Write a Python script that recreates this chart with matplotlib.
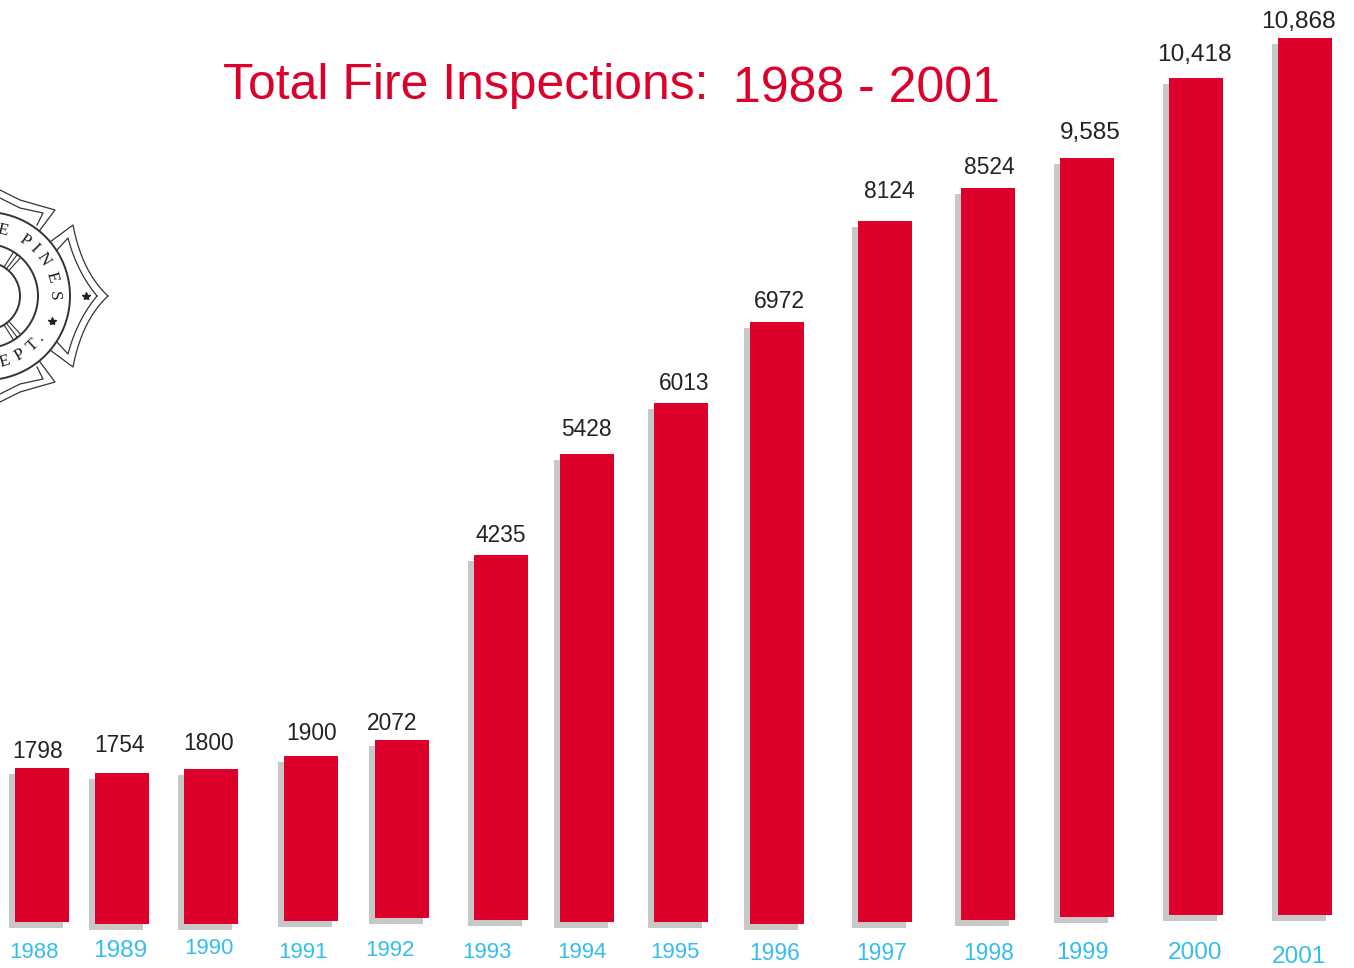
import numpy as np
import matplotlib
matplotlib.use('Agg')
import matplotlib.pyplot as plt
from matplotlib.transforms import Affine2D

years = ['1988', '1989', '1990', '1991', '1992', '1993', '1994',
         '1995', '1996', '1997', '1998', '1999', '2000', '2001']
value_labels = ['1798', '1754', '1800', '1900', '2072', '4235', '5428',
                '6013', '6972', '8124', '8524', '9,585', '10,418', '10,868']
# heights as drawn in the picture (the last bars are shorter than their labels say)
drawn_values = [1787, 1752, 1798, 1914, 2065, 4234, 5429,
                6021, 6984, 8132, 8492, 8805, 9710, 10174]

# the bars are placed by hand in the original, so layout is per bar (pixels)
bar_left = [15, 95, 184, 284, 375, 474, 560, 654, 750, 858, 961, 1060, 1169, 1278]
bar_base = [922, 924, 924, 921, 918, 920, 922, 922, 924, 922, 920, 917, 915, 915]
label_x = [38, 119, 209, 312, 392, 501, 586, 684, 779, 889, 989, 1090, 1194, 1298]
label_y = [751, 746, 743, 733, 723, 535, 429, 383, 301, 191, 167, 133, 55, 22]
label_size = [16.4, 16.4, 16.4, 16.4, 16.4, 16.4, 16.4, 16.4, 16.6, 16.4, 16.4, 17.6, 17.6, 17.6]
year_x = [34, 120, 209, 303, 390, 487, 582, 675, 775, 882, 989, 1083, 1195, 1299]
year_y = [952, 951, 949, 953, 951, 953, 953, 953, 953, 953, 953, 953, 953, 957]
year_size = [16, 17.6, 16, 16, 16, 16, 16, 16, 16.4, 16.4, 16.4, 17, 17.6, 17.6]

W, H = 1354, 968
PX_PER_UNIT = 0.0862
BAR_W = 54
RED = '#dc002b'
GREY = '#c8c8c8'
BLUE = '#35bdec'
INK = '#333333'

plt.rcParams['font.family'] = ['Liberation Sans', 'DejaVu Sans']

fig = plt.figure(figsize=(W / 100, H / 100), dpi=100)
ax = fig.add_axes([0, 0, 1, 1])
ax.set_xlim(0, W)
ax.set_ylim(-(H - 922) / PX_PER_UNIT, 922 / PX_PER_UNIT)
ax.axis('off')

# pixel coords from the top left, for text and the badge
px = Affine2D().scale(1, -1).translate(0, H)

left = np.array(bar_left)
base = (922 - np.array(bar_base)) / PX_PER_UNIT
ax.bar(left - 6, drawn_values, BAR_W, bottom=base - 6 / PX_PER_UNIT,
       align='edge', color=GREY, zorder=1)
ax.bar(left, drawn_values, BAR_W, bottom=base, align='edge', color=RED, zorder=2)

for i in range(len(years)):
    fig.text(label_x[i], label_y[i], value_labels[i], transform=px, fontsize=label_size[i],
             color='#222222', ha='center', va='center')
    fig.text(year_x[i], year_y[i], years[i], transform=px, fontsize=year_size[i],
             color=BLUE, ha='center', va='center')

fig.text(223, 86, 'Total Fire Inspections:', transform=px, fontsize=35.9,
         color=RED, ha='left', va='center')
fig.text(733, 89, '1988 - 2001', transform=px, fontsize=36,
         color=RED, ha='left', va='center')


def badge():
    cx, cy = -14, 296

    def line(xs, ys, lw=1.0):
        ax.plot(xs, ys, color=INK, lw=lw, transform=px, clip_on=False, zorder=3)

    t = np.linspace(0, 2 * np.pi, 200)
    for r, lw in [(84, 1.4), (52, 1.4), (34, 1.4)]:
        line(cx + r * np.cos(t), cy + r * np.sin(t), lw)

    # spokes between the two inner rings
    for a in [48, 53, 58, -48, -53, -58]:
        a = np.radians(a)
        line([cx + 34 * np.cos(a), cx + 52 * np.cos(a)],
             [cy + 34 * np.sin(a), cy + 52 * np.sin(a)], 0.8)

    # right arm of the cross, outer and inner outline
    for tip_x, top_x, top_y, start_x, start_y in [(108, 73, 225, 50, 242), (97, 68, 238, 57, 250)]:
        for s in (1, -1):
            u = np.linspace(0, 1, 30)
            xs = (1 - u) ** 2 * top_x + 2 * u * (1 - u) * (top_x + 9) + u ** 2 * tip_x
            ys = (1 - u) ** 2 * top_y + 2 * u * (1 - u) * 272 + u ** 2 * 296
            line([start_x] + list(xs), cy + s * (np.array([start_y] + list(ys)) - cy), 0.9)

    # upper and lower arms, mirrored
    for s in (1, -1):
        for xs, ys in [([0, 20, 55, 40], [190, 200, 210, 230]),
                       ([0, 20, 43, 37], [198, 208, 213, 225])]:
            line(xs, cy + s * (np.array(ys) - cy), 0.9)

    # ring lettering
    for ch, a in [('E', 76), ('P', 55), ('I', 45), ('N', 33), ('E', 16), ('S', 0)]:
        r_a = np.radians(a)
        fig.text(cx + 68 * np.cos(r_a), cy - 68 * np.sin(r_a), ch, transform=px, fontsize=12.5,
                 family='Liberation Serif', color='#222222', rotation=a - 90,
                 ha='center', va='center', rotation_mode='anchor')
    for ch, a in [('E', -74), ('P', -60), ('T', -47), ('.', -37)]:
        r_a = np.radians(a)
        fig.text(cx + 68 * np.cos(r_a), cy - 68 * np.sin(r_a), ch, transform=px, fontsize=12.5,
                 family='Liberation Serif', color='#222222', rotation=a + 90,
                 ha='center', va='center', rotation_mode='anchor')
    ax.plot([52, 86], [321, 296], ls='none', marker='*', ms=6, color='#222222',
            transform=px, clip_on=False, zorder=3)


badge()

fig.savefig('out.png', dpi=100)
